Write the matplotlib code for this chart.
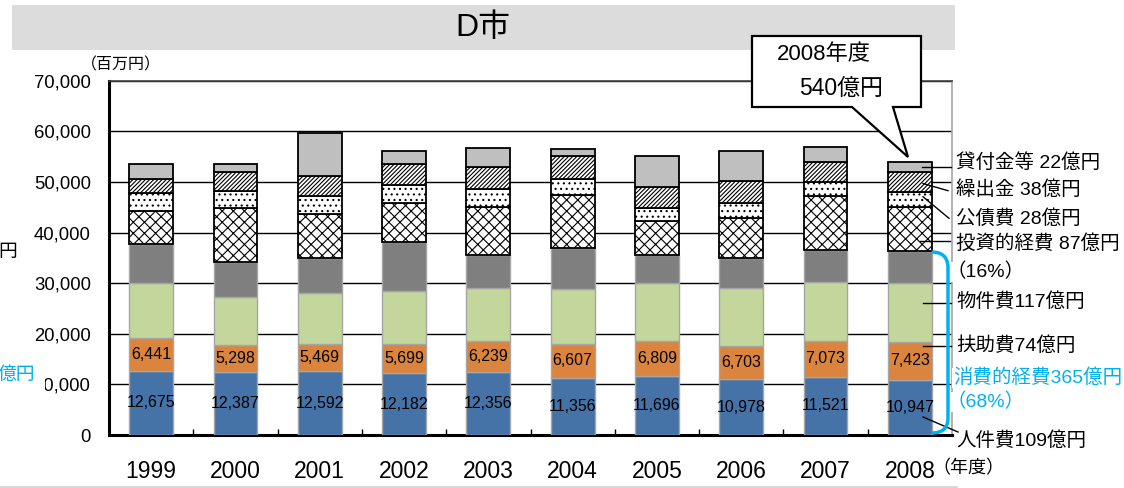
import numpy as np
import matplotlib
matplotlib.use("Agg")
import matplotlib.pyplot as plt
from matplotlib.patches import Polygon, Rectangle, PathPatch
from matplotlib.path import Path
from matplotlib.lines import Line2D

# ---------------- data ----------------
years = ['1999', '2000', '2001', '2002', '2003', '2004', '2005', '2006', '2007', '2008']
personnel = [12675, 12387, 12592, 12182, 12356, 11356, 11696, 10978, 11521, 10947]   # 人件費
assistance = [6441, 5298, 5469, 5699, 6239, 6607, 6809, 6703, 7073, 7423]            # 扶助費
supplies = [10980, 9530, 9940, 10630, 10520, 10830, 11470, 11430, 11700, 11600]      # 物件費
other_consumption = [7590, 6920, 6920, 9630, 6460, 8100, 5540, 5930, 6270, 6390]     # その他消費的経費
investment = [6640, 10790, 8820, 7760, 9540, 10530, 6780, 7900, 10670, 8630]         # 投資的経費
debt_service = [3440, 3360, 3500, 3440, 3500, 3230, 2570, 2960, 2700, 2970]          # 公債費
transfers = [2830, 3700, 3950, 4270, 4410, 4490, 4220, 4290, 4080, 3950]             # 繰出金
loans = [3020, 1640, 8440, 2570, 3690, 1330, 6060, 5990, 2960, 2100]                 # 貸付金等

yticks = [0, 10000, 20000, 30000, 40000, 50000, 60000, 70000]
right_labels = ['貸付金等 22億円', '繰出金 38億円', '公債費 28億円', '投資的経費 87億円',
                '（16%）', '物件費117億円', '扶助費74億円', '人件費109億円']
consumption_labels = ['消費的経費365億円', '（68%）']

# ---------------- style ----------------
JP = ['Liberation Sans', 'Noto Sans CJK JP']
plt.rcParams['font.family'] = JP
plt.rcParams['hatch.linewidth'] = 0.8

W, H = 1124, 488
fig = plt.figure(figsize=(W / 100, H / 100), dpi=100)
fig.patch.set_facecolor('white')


def F(x, y):
    return (x / W, 1 - y / H)


# title band
fig.patches.append(Rectangle(F(12, 50), (955 - 12) / W, 45 / H, transform=fig.transFigure,
                             facecolor='#DCDCDC', edgecolor='none', zorder=0))
fig.text(*F(483, 28), 'D市', ha='center', va='center', fontsize=23, color='black')
# bottom frame line
fig.add_artist(Line2D([0 / W, 957 / W], [1 - 487 / H] * 2, transform=fig.transFigure,
                      color='#D0D0D0', lw=1.2))

ax = fig.add_axes([109 / W, 1 - 435 / H, (952 - 109) / W, (435 - 80.7) / H])
x = np.arange(len(years))
bw = 0.52

series = [
    (personnel, dict(color='#4572A7', edgecolor='#A6A6A6', lw=1)),
    (assistance, dict(color='#DB843D', edgecolor='#A6A6A6', lw=1)),
    (supplies, dict(color='#C3D69B', edgecolor='#A6A6A6', lw=1)),
    (other_consumption, dict(color='#7F7F7F', edgecolor='#A6A6A6', lw=1)),
    (investment, dict(facecolor='white', edgecolor='black', hatch='xxx', lw=1.3)),
    (debt_service, dict(facecolor='white', edgecolor='black', hatch='...', lw=1.3)),
    (transfers, dict(facecolor='white', edgecolor='black', hatch='////////', lw=1.3)),
    (loans, dict(facecolor='#BFBFBF', edgecolor='black', lw=1.3)),
]
bottom = np.zeros(len(years))
for vals, kw in series:
    ax.bar(x, vals, bw, bottom=bottom, zorder=3, **kw)
    bottom = bottom + np.array(vals)

for i in range(len(years)):
    ax.text(x[i], personnel[i] / 2, f'{personnel[i]:,}', ha='center', va='center',
            fontsize=11.5, zorder=5)
    ax.text(x[i], personnel[i] + assistance[i] / 2, f'{assistance[i]:,}', ha='center',
            va='center', fontsize=11.5, zorder=5)

ax.set_xlim(-0.5, len(years) - 0.5)
ax.set_ylim(0, 70000)
ax.set_yticks(yticks)
ax.set_yticklabels([f'{v:,}' for v in yticks], fontsize=13.3)
ax.set_xticks(x)
ax.set_xticklabels(years, fontsize=16.5)
ax.set_xticks(np.arange(0.5, len(years) - 1, 1), minor=True)
ax.tick_params(axis='y', length=0, pad=13)
ax.tick_params(axis='x', which='major', length=0, pad=18)
ax.tick_params(axis='x', which='minor', length=4, width=1, direction='in')
ax.yaxis.grid(True, color='black', lw=1)
ax.set_axisbelow(True)
ax.spines['left'].set_linewidth(2.2)
ax.spines['bottom'].set_linewidth(2.2)
ax.spines['top'].set_color('#404040')
ax.spines['top'].set_linewidth(1.2)
ax.spines['right'].set_color('#A6A6A6')
ax.spines['right'].set_linewidth(1.2)

# unit labels
fig.text(*F(121, 65), '（百万円）', ha='center', va='center', fontsize=11.5)
fig.text(*F(932, 469), '（年度）', ha='left', va='center', fontsize=13)

# cut-off labels at far left (the cyan label hides the leading "1" of 10,000)
fig.patches.append(Rectangle(F(0, 392), 44.5 / W, 28 / H, transform=fig.transFigure,
                             facecolor='white', edgecolor='none', zorder=9))
fig.text(*F(-2, 253), '円', ha='left', va='center', fontsize=13.5)
fig.text(*F(-2, 375), '億円', ha='left', va='center', fontsize=13.5, color='#00B0F0',
         zorder=10)

# right annotations
ys = [163, 190, 218, 244, 272, 302, 346, 441]
xs = [956, 956, 956, 956, 946, 956, 956, 956]
for lab, xx, yy in zip(right_labels, xs, ys):
    fig.text(*F(xx, yy), lab, ha='left', va='center', fontsize=14,
             bbox=dict(facecolor='white', edgecolor='none', pad=0.5))
fig.text(*F(953, 378), consumption_labels[0], ha='left', va='center', fontsize=14,
         color='#00B0F0', bbox=dict(facecolor='white', edgecolor='none', pad=0.5))
fig.text(*F(946, 402), consumption_labels[1], ha='left', va='center', fontsize=14,
         color='#00B0F0', bbox=dict(facecolor='white', edgecolor='none', pad=0.5))

# leader lines
leaders = [((922, 166.7), (951, 166.7)),
           ((923, 183.5), (948, 190.7)),
           ((923, 196.7), (949, 218.3)),
           ((920, 240.5), (950, 240.5)),
           ((923, 302.7), (951, 302.7)),
           ((923, 346), (951, 346)),
           ((923, 417), (958, 432))]
for (x0, y0), (x1, y1) in leaders:
    fig.add_artist(Line2D([x0 / W, x1 / W], [1 - y0 / H, 1 - y1 / H],
                          transform=fig.transFigure, color='black', lw=1, zorder=6))

# cyan bracket
pts = [(931.7, 252), (948, 252), (948, 268), (948, 418), (948, 433), (931.7, 433)]
codes = [Path.MOVETO, Path.CURVE3, Path.CURVE3, Path.LINETO, Path.CURVE3, Path.CURVE3]
bp = Path([F(px, py) for px, py in pts], codes)
fig.patches.append(PathPatch(bp, transform=fig.transFigure, facecolor='none',
                             edgecolor='#00B0F0', lw=2.5, zorder=6))

# callout
callout = [(752, 36), (921, 36), (921, 107), (893, 107), (908, 157), (852, 107), (752, 107)]
fig.patches.append(Polygon([F(px, py) for px, py in callout], closed=True,
                           transform=fig.transFigure, facecolor='white',
                           edgecolor='black', lw=1.6, zorder=8))
fig.text(*F(777, 55), '2008年度', ha='left', va='center', fontsize=16, zorder=9)
fig.text(*F(799, 88), '540億円', ha='left', va='center', fontsize=16.5, zorder=9)

fig.savefig('out.png', dpi=100)
